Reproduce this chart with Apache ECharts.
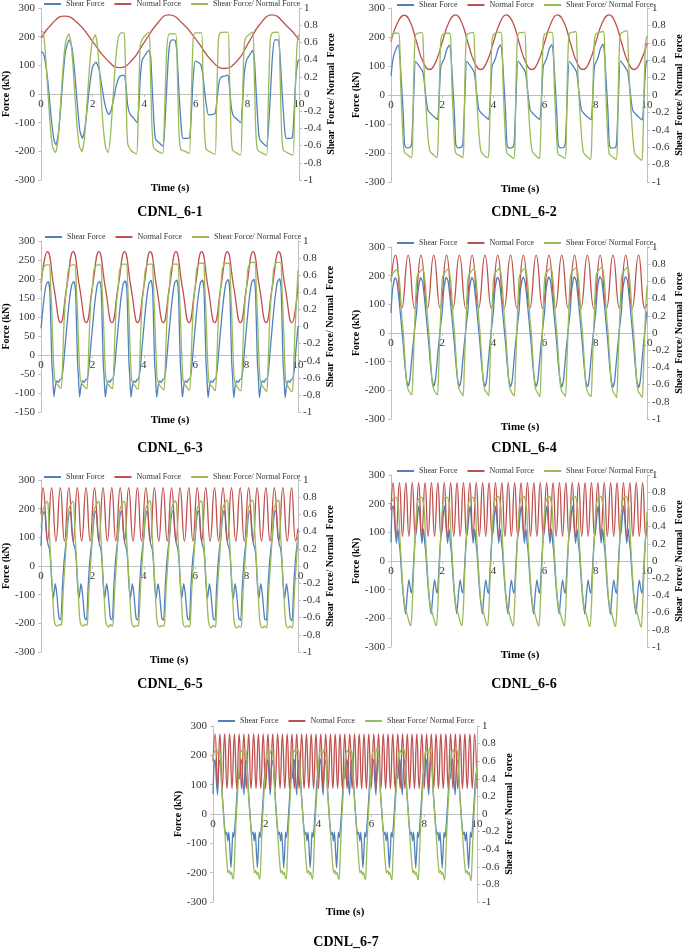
<!DOCTYPE html>
<html><head><meta charset="utf-8">
<script src="https://cdn.jsdelivr.net/npm/echarts@6/dist/echarts.min.js"></script>
<style>html,body{margin:0;padding:0;background:#fff}#c{width:685px;height:950px}</style>
</head><body><div id="c"></div>
<script>
// ---------------- DATA (time s, value) ----------------
const seriesNames = ['Shear Force', 'Normal Force', 'Shear Force/ Normal Force'];
const panelTitles = ['CDNL_6-1','CDNL_6-2','CDNL_6-3','CDNL_6-4','CDNL_6-5','CDNL_6-6','CDNL_6-7'];
const xRange = [0, 10, 2];
const forceRanges = [[-300,300,100],[-300,300,100],[-150,300,50],[-300,300,100],[-300,300,100],[-300,300,100],[-300,300,100]];
const ratioRange = [-1, 1, 0.2];

// ---- CDNL_6-1
const c1Shear = [[0,148],[0.1,140],[0.2,90],[0.3,10],[0.4,-90],[0.5,-160],[0.58,-177],[0.67,-140],[0.76,-50],[0.85,60],[0.95,150],[1.09,189],[1.2,160],[1.3,80],[1.4,-30],[1.5,-125],[1.6,-155],[1.7,-120],[1.8,-40],[1.9,40],[2.0,95],[2.13,111],[2.25,85],[2.35,30],[2.45,-25],[2.55,-60],[2.63,-71],[2.72,-55],[2.82,-15],[2.92,30],[3.02,58],[3.1,64],[3.21,66],[3.28,40],[3.36,-40],[3.45,-70],[3.6,-85],[3.72,-100],[3.78,-60],[3.85,60],[3.92,119],[4.05,138],[4.18,152],[4.25,130],[4.32,0],[4.4,-130],[4.45,-159],[4.6,-172],[4.72,-182],[4.78,-140],[4.85,-20],[4.93,120],[5.0,180],[5.08,189],[5.2,187],[5.27,140],[5.35,0],[5.45,-130],[5.5,-155],[5.65,-155],[5.76,-152],[5.82,-80],[5.9,60],[5.98,115],[6.1,110],[6.2,101],[6.28,60],[6.38,-20],[6.49,-73],[6.6,-72],[6.75,-68],[6.82,-20],[6.9,40],[6.97,58],[7.1,62],[7.24,66],[7.3,30],[7.38,-50],[7.46,-77],[7.6,-88],[7.74,-100],[7.8,-50],[7.88,70],[7.97,119],[8.1,138],[8.2,152],[8.27,120],[8.35,-10],[8.43,-130],[8.48,-159],[8.6,-172],[8.74,-182],[8.8,-140],[8.88,-20],[8.97,130],[9.06,189],[9.19,189],[9.26,140],[9.35,0],[9.45,-130],[9.51,-155],[9.62,-155],[9.74,-152],[9.8,-80],[9.88,60],[9.96,115],[10,120]];
const c1Normal = [[0,195],[0.45,248],[0.9,272],[1.45,245],[2.0,183],[2.55,120],[3.05,92],[3.5,115],[4.0,180],[4.5,245],[4.95,276],[5.5,245],[6.05,185],[6.6,118],[7.1,89],[7.6,115],[8.05,180],[8.5,245],[8.95,276],[9.5,240],[10,190]];
const c1Ratio = [[0,0.73],[0.08,0.72],[0.15,0.55],[0.25,0.1],[0.35,-0.35],[0.45,-0.62],[0.56,-0.68],[0.65,-0.55],[0.75,-0.15],[0.85,0.3],[0.95,0.6],[1.07,0.7],[1.17,0.58],[1.27,0.18],[1.37,-0.28],[1.48,-0.6],[1.58,-0.67],[1.68,-0.52],[1.78,-0.12],[1.88,0.32],[1.98,0.6],[2.1,0.69],[2.2,0.52],[2.3,0.1],[2.4,-0.35],[2.5,-0.62],[2.6,-0.68],[2.7,-0.45],[2.8,0.0],[2.9,0.42],[3.0,0.66],[3.1,0.71],[3.22,0.71],[3.26,0.45],[3.31,-0.2],[3.36,-0.58],[3.5,-0.66],[3.7,-0.7],[3.76,-0.35],[3.84,0.55],[3.95,0.65],[4.18,0.72],[4.23,0.4],[4.29,-0.3],[4.36,-0.62],[4.55,-0.67],[4.72,-0.69],[4.78,-0.3],[4.87,0.5],[4.97,0.7],[5.22,0.7],[5.28,0.3],[5.34,-0.4],[5.41,-0.64],[5.6,-0.67],[5.75,-0.69],[5.81,-0.2],[5.89,0.6],[5.96,0.71],[6.22,0.71],[6.27,0.3],[6.33,-0.4],[6.4,-0.64],[6.6,-0.68],[6.75,-0.7],[6.8,-0.2],[6.87,0.6],[6.94,0.71],[7.24,0.72],[7.3,0.3],[7.36,-0.4],[7.42,-0.65],[7.6,-0.69],[7.74,-0.71],[7.8,-0.2],[7.87,0.55],[7.95,0.66],[8.2,0.72],[8.26,0.3],[8.32,-0.4],[8.39,-0.65],[8.6,-0.69],[8.75,-0.71],[8.8,-0.2],[8.88,0.6],[8.96,0.71],[9.2,0.72],[9.26,0.3],[9.32,-0.4],[9.39,-0.65],[9.6,-0.69],[9.77,-0.71],[9.83,-0.2],[9.91,0.5],[9.97,0.68],[10,0.69]];

// ---- CDNL_6-2
const c2Shear = [[0,66],[0.08,125],[0.18,155],[0.28,172],[0.34,140],[0.41,39],[0.47,-50],[0.53,-170],[0.6,-182],[0.75,-180],[0.81,-165],[0.88,-20],[0.96,115],[1.1,100],[1.25,78],[1.35,5],[1.44,-52],[1.57,-66],[1.75,-80],[1.82,-85],[1.88,-10],[1.95,100],
[2.08,125],[2.18,158],[2.28,172],[2.34,140],[2.41,39],[2.47,-50],[2.53,-170],[2.6,-182],[2.75,-180],[2.81,-165],[2.88,-20],[2.96,116],[3.1,100],[3.25,78],[3.35,5],[3.44,-52],[3.57,-66],[3.75,-80],[3.82,-84],[3.88,-10],[3.95,100],
[4.08,126],[4.18,158],[4.28,173],[4.34,141],[4.41,39],[4.47,-50],[4.53,-171],[4.6,-183],[4.75,-181],[4.81,-166],[4.88,-20],[4.96,117],[5.1,101],[5.25,78],[5.35,5],[5.44,-52],[5.57,-66],[5.75,-81],[5.82,-84],[5.88,-10],[5.95,100],
[6.08,126],[6.18,159],[6.28,174],[6.34,141],[6.41,40],[6.47,-50],[6.53,-171],[6.6,-182],[6.75,-181],[6.81,-166],[6.88,-20],[6.96,116],[7.1,101],[7.25,78],[7.35,5],[7.44,-52],[7.57,-67],[7.75,-81],[7.82,-85],[7.88,-10],[7.95,100],
[8.08,127],[8.18,160],[8.28,175],[8.34,142],[8.41,40],[8.47,-50],[8.53,-172],[8.6,-183],[8.75,-182],[8.81,-166],[8.88,-20],[8.96,118],[9.1,102],[9.25,79],[9.35,5],[9.44,-53],[9.57,-67],[9.75,-82],[9.82,-86],[9.88,-10],[9.95,100],[10,120]];
const c2Normal = [[0,185],[0.26,250],[0.52,275],[0.76,250],[1.0,182],[1.25,115],[1.5,88],[1.75,115],[2.0,182],[2.26,250],[2.52,276],[2.76,250],[3.0,182],[3.25,115],[3.5,88],[3.75,115],[4.0,182],[4.26,250],[4.5,276],[4.76,250],[5.0,182],[5.25,115],[5.5,88],[5.75,115],[6.0,182],[6.26,250],[6.5,276],[6.76,250],[7.0,182],[7.25,115],[7.5,88],[7.75,115],[8.0,182],[8.26,250],[8.52,276],[8.76,250],[9.0,182],[9.25,115],[9.5,88],[9.75,115],[10,180]];
const c2Ratio = [[0,0.62],[0.06,0.7],[0.15,0.71],[0.3,0.71],[0.34,0.6],[0.38,0.1],[0.43,-0.25],[0.48,-0.55],[0.53,-0.66],[0.7,-0.7],[0.8,-0.72],[0.84,-0.6],[0.88,0.1],[0.93,0.6],[0.98,0.7],[1.22,0.72],[1.26,0.55],[1.32,0.1],[1.38,-0.2],[1.45,-0.5],[1.52,-0.64],[1.7,-0.7],[1.8,-0.72],[1.84,-0.55],[1.89,0.1],[1.94,0.6],
[2.0,0.69],[2.15,0.71],[2.3,0.71],[2.34,0.6],[2.38,0.1],[2.43,-0.25],[2.48,-0.55],[2.53,-0.67],[2.7,-0.7],[2.8,-0.72],[2.84,-0.6],[2.88,0.1],[2.93,0.6],[2.98,0.7],[3.22,0.72],[3.26,0.55],[3.32,0.1],[3.38,-0.2],[3.45,-0.5],[3.52,-0.65],[3.7,-0.71],[3.8,-0.72],[3.84,-0.55],[3.89,0.1],[3.94,0.6],
[4.0,0.69],[4.15,0.72],[4.3,0.72],[4.34,0.6],[4.38,0.1],[4.43,-0.25],[4.48,-0.55],[4.53,-0.67],[4.7,-0.71],[4.8,-0.73],[4.84,-0.6],[4.88,0.1],[4.93,0.6],[4.98,0.71],[5.22,0.72],[5.26,0.55],[5.32,0.1],[5.38,-0.2],[5.45,-0.5],[5.52,-0.65],[5.7,-0.71],[5.8,-0.73],[5.84,-0.55],[5.89,0.1],[5.94,0.6],
[6.0,0.7],[6.15,0.72],[6.3,0.72],[6.34,0.6],[6.38,0.1],[6.43,-0.25],[6.48,-0.55],[6.53,-0.68],[6.7,-0.71],[6.8,-0.73],[6.84,-0.6],[6.88,0.1],[6.93,0.6],[6.98,0.71],[7.22,0.73],[7.26,0.55],[7.32,0.1],[7.38,-0.2],[7.45,-0.5],[7.52,-0.66],[7.7,-0.72],[7.8,-0.74],[7.84,-0.55],[7.89,0.1],[7.94,0.6],
[8.0,0.7],[8.15,0.72],[8.3,0.73],[8.34,0.6],[8.38,0.1],[8.43,-0.25],[8.48,-0.55],[8.53,-0.68],[8.7,-0.72],[8.8,-0.74],[8.84,-0.6],[8.88,0.1],[8.93,0.6],[8.98,0.71],[9.22,0.74],[9.26,0.55],[9.32,0.1],[9.38,-0.2],[9.45,-0.5],[9.52,-0.67],[9.7,-0.73],[9.8,-0.75],[9.84,-0.55],[9.89,0.1],[9.94,0.6],[10,0.68]];

// ---- CDNL_6-3
const c3Shear = [[0,70],[0.1,140],[0.2,185],[0.28,193],[0.34,170],[0.38,80],[0.42,-20],[0.45,-52],[0.5,-110],[0.56,-80],[0.62,-68],[0.68,-72],[0.74,-64],[0.8,-62],[0.86,-35],[0.93,20],
[1,72],[1.1,142],[1.2,186],[1.28,193],[1.34,170],[1.38,80],[1.42,-20],[1.45,-52],[1.5,-110],[1.56,-80],[1.62,-68],[1.68,-72],[1.74,-64],[1.8,-62],[1.86,-35],[1.93,20],
[2,72],[2.1,142],[2.2,187],[2.28,194],[2.34,171],[2.38,80],[2.42,-20],[2.45,-52],[2.5,-111],[2.56,-80],[2.62,-68],[2.68,-72],[2.74,-64],[2.8,-62],[2.86,-35],[2.93,20],
[3,73],[3.1,143],[3.2,188],[3.28,195],[3.34,172],[3.38,80],[3.42,-20],[3.45,-52],[3.5,-111],[3.56,-80],[3.62,-68],[3.68,-72],[3.74,-64],[3.8,-62],[3.86,-35],[3.93,20],
[4,73],[4.1,143],[4.2,189],[4.28,196],[4.34,173],[4.38,81],[4.42,-20],[4.45,-52],[4.5,-111],[4.56,-80],[4.62,-68],[4.68,-72],[4.74,-64],[4.8,-62],[4.86,-35],[4.93,21],
[5,74],[5.1,144],[5.2,190],[5.28,197],[5.34,174],[5.38,81],[5.42,-20],[5.45,-52],[5.5,-111],[5.56,-80],[5.62,-68],[5.68,-72],[5.74,-64],[5.8,-62],[5.86,-35],[5.93,21],
[6,74],[6.1,144],[6.2,190],[6.28,197],[6.34,174],[6.38,82],[6.42,-20],[6.45,-52],[6.5,-112],[6.56,-80],[6.62,-68],[6.68,-72],[6.74,-64],[6.8,-62],[6.86,-35],[6.93,21],
[7,75],[7.1,145],[7.2,191],[7.28,198],[7.34,175],[7.38,82],[7.42,-20],[7.45,-52],[7.5,-112],[7.56,-80],[7.62,-68],[7.68,-72],[7.74,-64],[7.8,-62],[7.86,-35],[7.93,22],
[8,75],[8.1,146],[8.2,192],[8.28,199],[8.34,176],[8.38,82],[8.42,-20],[8.45,-52],[8.5,-112],[8.56,-80],[8.62,-68],[8.68,-72],[8.74,-64],[8.8,-62],[8.86,-35],[8.93,22],
[9,76],[9.1,146],[9.2,193],[9.28,200],[9.34,177],[9.38,83],[9.42,-20],[9.45,-52],[9.5,-112],[9.56,-80],[9.62,-68],[9.68,-72],[9.74,-64],[9.8,-62],[9.86,-35],[9.93,22],[10,76]];
const c3Normal = [[0,190],[0.25,272],[0.5,178],[0.76,85],[1,180],[1.25,272],[1.5,178],[1.76,85],[2,180],[2.25,272],[2.5,178],[2.76,85],[3,180],[3.25,272],[3.5,178],[3.76,85],[4,180],[4.25,272],[4.5,178],[4.76,85],[5,180],[5.25,272],[5.5,178],[5.76,85],[6,180],[6.25,272],[6.5,178],[6.76,85],[7,180],[7.25,272],[7.5,178],[7.76,85],[8,180],[8.25,272],[8.5,178],[8.76,85],[9,180],[9.25,272],[9.5,178],[9.76,85],[10,185]];
const c3Ratio = [[0,0.42],[0.05,0.64],[0.12,0.7],[0.2,0.72],[0.33,0.72],[0.37,0.5],[0.42,0.15],[0.47,-0.3],[0.52,-0.6],[0.58,-0.66],[0.65,-0.68],[0.74,-0.72],[0.79,-0.72],[0.83,-0.5],[0.88,-0.05],[0.94,0.3],
[1,0.45],[1.05,0.64],[1.12,0.7],[1.2,0.72],[1.33,0.72],[1.37,0.5],[1.42,0.15],[1.47,-0.3],[1.52,-0.6],[1.58,-0.66],[1.65,-0.69],[1.74,-0.72],[1.79,-0.73],[1.83,-0.5],[1.88,-0.05],[1.94,0.3],
[2,0.45],[2.05,0.65],[2.12,0.7],[2.2,0.72],[2.33,0.72],[2.37,0.5],[2.42,0.15],[2.47,-0.3],[2.52,-0.6],[2.58,-0.66],[2.65,-0.69],[2.74,-0.72],[2.79,-0.73],[2.83,-0.5],[2.88,-0.05],[2.94,0.3],
[3,0.45],[3.05,0.65],[3.12,0.71],[3.2,0.73],[3.33,0.73],[3.37,0.5],[3.42,0.15],[3.47,-0.3],[3.52,-0.61],[3.58,-0.67],[3.65,-0.69],[3.74,-0.73],[3.79,-0.73],[3.83,-0.5],[3.88,-0.05],[3.94,0.3],
[4,0.46],[4.05,0.65],[4.12,0.71],[4.2,0.73],[4.33,0.73],[4.37,0.5],[4.42,0.15],[4.47,-0.3],[4.52,-0.61],[4.58,-0.67],[4.65,-0.7],[4.74,-0.73],[4.79,-0.74],[4.83,-0.5],[4.88,-0.05],[4.94,0.3],
[5,0.46],[5.05,0.66],[5.12,0.72],[5.2,0.73],[5.33,0.73],[5.37,0.5],[5.42,0.15],[5.47,-0.3],[5.52,-0.61],[5.58,-0.67],[5.65,-0.7],[5.74,-0.74],[5.79,-0.74],[5.83,-0.5],[5.88,-0.05],[5.94,0.3],
[6,0.46],[6.05,0.66],[6.12,0.72],[6.2,0.74],[6.33,0.74],[6.37,0.5],[6.42,0.15],[6.47,-0.3],[6.52,-0.62],[6.58,-0.68],[6.65,-0.7],[6.74,-0.74],[6.79,-0.75],[6.83,-0.5],[6.88,-0.05],[6.94,0.3],
[7,0.47],[7.05,0.66],[7.12,0.72],[7.2,0.74],[7.33,0.74],[7.37,0.5],[7.42,0.15],[7.47,-0.3],[7.52,-0.62],[7.58,-0.68],[7.65,-0.71],[7.74,-0.75],[7.79,-0.75],[7.83,-0.5],[7.88,-0.05],[7.94,0.3],
[8,0.47],[8.05,0.67],[8.12,0.73],[8.2,0.75],[8.33,0.75],[8.37,0.5],[8.42,0.15],[8.47,-0.3],[8.52,-0.62],[8.58,-0.68],[8.65,-0.71],[8.74,-0.75],[8.79,-0.76],[8.83,-0.5],[8.88,-0.05],[8.94,0.3],
[9,0.47],[9.05,0.67],[9.12,0.73],[9.2,0.75],[9.33,0.75],[9.37,0.5],[9.42,0.15],[9.47,-0.3],[9.52,-0.63],[9.58,-0.69],[9.65,-0.72],[9.74,-0.76],[9.79,-0.76],[9.83,-0.5],[9.88,-0.05],[9.94,0.3],[10,0.66]];

// ---- CDNL_6-4
const c4Shear = [[0,70],[0.06,150],[0.16,193],[0.23,180],[0.32,110],[0.4,35],[0.48,-42],[0.52,-90],[0.6,-160],[0.67,-185],[0.74,-160],[0.8,-100],[0.86,-42],[0.92,10],[0.97,50],
[1,72],[1.06,150],[1.16,193],[1.23,180],[1.32,110],[1.4,35],[1.48,-42],[1.52,-90],[1.6,-160],[1.67,-185],[1.74,-160],[1.8,-100],[1.86,-42],[1.92,10],[1.97,50],
[2,72],[2.06,151],[2.16,194],[2.23,181],[2.32,110],[2.4,35],[2.48,-42],[2.52,-90],[2.6,-161],[2.67,-186],[2.74,-161],[2.8,-100],[2.86,-42],[2.92,10],[2.97,50],
[3,72],[3.06,151],[3.16,194],[3.23,181],[3.32,110],[3.4,35],[3.48,-42],[3.52,-90],[3.6,-161],[3.67,-186],[3.74,-161],[3.8,-100],[3.86,-42],[3.92,10],[3.97,50],
[4,73],[4.06,152],[4.16,195],[4.23,182],[4.32,111],[4.4,35],[4.48,-42],[4.52,-91],[4.6,-162],[4.67,-187],[4.74,-162],[4.8,-101],[4.86,-42],[4.92,10],[4.97,51],
[5,73],[5.06,152],[5.16,195],[5.23,182],[5.32,111],[5.4,35],[5.48,-42],[5.52,-91],[5.6,-162],[5.67,-187],[5.74,-162],[5.8,-101],[5.86,-42],[5.92,10],[5.97,51],
[6,73],[6.06,153],[6.16,196],[6.23,183],[6.32,111],[6.4,36],[6.48,-43],[6.52,-91],[6.6,-163],[6.67,-188],[6.74,-163],[6.8,-101],[6.86,-43],[6.92,10],[6.97,51],
[7,74],[7.06,153],[7.16,196],[7.23,183],[7.32,112],[7.4,36],[7.48,-43],[7.52,-92],[7.6,-163],[7.67,-188],[7.74,-163],[7.8,-102],[7.86,-43],[7.92,10],[7.97,52],
[8,74],[8.06,154],[8.16,197],[8.23,184],[8.32,112],[8.4,36],[8.48,-43],[8.52,-92],[8.6,-164],[8.67,-189],[8.74,-164],[8.8,-102],[8.86,-43],[8.92,10],[8.97,52],
[9,74],[9.06,154],[9.16,197],[9.23,184],[9.32,112],[9.4,36],[9.48,-43],[9.52,-92],[9.6,-165],[9.67,-190],[9.74,-165],[9.8,-102],[9.86,-43],[9.92,10],[9.97,52],[10,75]];
const c4Normal = [[0,180],[0.17,272],[0.42,86],[0.67,272],[0.92,86],[1.17,272],[1.42,86],[1.67,272],[1.92,86],[2.17,272],[2.42,86],[2.67,272],[2.92,86],[3.17,272],[3.42,86],[3.67,272],[3.92,86],[4.17,272],[4.42,86],[4.67,272],[4.92,86],[5.17,272],[5.42,86],[5.67,272],[5.92,86],[6.17,272],[6.42,86],[6.67,272],[6.92,86],[7.17,272],[7.42,86],[7.67,272],[7.92,86],[8.17,272],[8.42,86],[8.67,272],[8.92,86],[9.17,272],[9.42,86],[9.67,272],[9.92,86],[10,100]];
const c4Ratio = [[0,0.6],[0.05,0.68],[0.15,0.72],[0.25,0.74],[0.3,0.68],[0.36,0.5],[0.42,0.2],[0.48,0.0],[0.54,-0.28],[0.6,-0.55],[0.66,-0.65],[0.75,-0.7],[0.82,-0.72],[0.86,-0.45],[0.9,-0.1],[0.95,0.3],
[1,0.62],[1.05,0.68],[1.15,0.72],[1.25,0.74],[1.3,0.68],[1.36,0.5],[1.42,0.2],[1.48,0.0],[1.54,-0.28],[1.6,-0.55],[1.66,-0.65],[1.75,-0.7],[1.82,-0.72],[1.86,-0.45],[1.9,-0.1],[1.95,0.3],
[2,0.62],[2.05,0.68],[2.15,0.72],[2.25,0.75],[2.3,0.68],[2.36,0.5],[2.42,0.2],[2.48,0.0],[2.54,-0.28],[2.6,-0.55],[2.66,-0.65],[2.75,-0.7],[2.82,-0.73],[2.86,-0.45],[2.9,-0.1],[2.95,0.3],
[3,0.62],[3.05,0.68],[3.15,0.72],[3.25,0.75],[3.3,0.68],[3.36,0.5],[3.42,0.2],[3.48,0.0],[3.54,-0.28],[3.6,-0.55],[3.66,-0.66],[3.75,-0.7],[3.82,-0.73],[3.86,-0.45],[3.9,-0.1],[3.95,0.3],
[4,0.62],[4.05,0.69],[4.15,0.73],[4.25,0.75],[4.3,0.68],[4.36,0.5],[4.42,0.2],[4.48,0.0],[4.54,-0.28],[4.6,-0.56],[4.66,-0.66],[4.75,-0.71],[4.82,-0.73],[4.86,-0.45],[4.9,-0.1],[4.95,0.3],
[5,0.63],[5.05,0.69],[5.15,0.73],[5.25,0.76],[5.3,0.69],[5.36,0.5],[5.42,0.2],[5.48,0.0],[5.54,-0.28],[5.6,-0.56],[5.66,-0.66],[5.75,-0.71],[5.82,-0.74],[5.86,-0.45],[5.9,-0.1],[5.95,0.3],
[6,0.63],[6.05,0.69],[6.15,0.73],[6.25,0.76],[6.3,0.69],[6.36,0.5],[6.42,0.2],[6.48,0.0],[6.54,-0.28],[6.6,-0.56],[6.66,-0.67],[6.75,-0.71],[6.82,-0.74],[6.86,-0.45],[6.9,-0.1],[6.95,0.3],
[7,0.63],[7.05,0.7],[7.15,0.74],[7.25,0.76],[7.3,0.69],[7.36,0.5],[7.42,0.2],[7.48,0.0],[7.54,-0.28],[7.6,-0.57],[7.66,-0.67],[7.75,-0.72],[7.82,-0.74],[7.86,-0.45],[7.9,-0.1],[7.95,0.3],
[8,0.64],[8.05,0.7],[8.15,0.74],[8.25,0.77],[8.3,0.7],[8.36,0.5],[8.42,0.2],[8.48,0.0],[8.54,-0.28],[8.6,-0.57],[8.66,-0.67],[8.75,-0.72],[8.82,-0.75],[8.86,-0.45],[8.9,-0.1],[8.95,0.3],
[9,0.64],[9.05,0.7],[9.15,0.74],[9.25,0.77],[9.3,0.7],[9.36,0.5],[9.42,0.2],[9.48,0.0],[9.54,-0.28],[9.6,-0.57],[9.66,-0.68],[9.75,-0.72],[9.82,-0.75],[9.86,-0.45],[9.9,-0.1],[9.95,0.3],[10,0.55]];

// ---- CDNL_6-5
const c5Shear = [[0,70],[0.05,170],[0.11,190],[0.16,185],[0.22,110],[0.27,75],[0.32,62],[0.37,20],[0.42,-64],[0.48,-112],[0.55,-62],[0.61,-95],[0.7,-182],[0.77,-188],[0.83,-76],[0.89,10],[0.95,64],
[1,100],[1.05,157],[1.11,190],[1.16,185],[1.22,110],[1.27,75],[1.32,62],[1.37,20],[1.42,-64],[1.48,-112],[1.55,-62],[1.61,-95],[1.7,-182],[1.77,-188],[1.83,-76],[1.89,10],[1.95,64],
[2,100],[2.05,157],[2.11,191],[2.16,185],[2.22,110],[2.27,75],[2.32,62],[2.37,20],[2.42,-64],[2.48,-113],[2.55,-62],[2.61,-95],[2.7,-182],[2.77,-188],[2.83,-76],[2.89,10],[2.95,64],
[3,100],[3.05,158],[3.11,191],[3.16,186],[3.22,110],[3.27,75],[3.32,62],[3.37,20],[3.42,-64],[3.48,-113],[3.55,-62],[3.61,-95],[3.7,-183],[3.77,-189],[3.83,-76],[3.89,10],[3.95,64],
[4,100],[4.05,158],[4.11,191],[4.16,186],[4.22,110],[4.27,75],[4.32,62],[4.37,20],[4.42,-64],[4.48,-113],[4.55,-62],[4.61,-95],[4.7,-183],[4.77,-189],[4.83,-76],[4.89,10],[4.95,64],
[5,100],[5.05,158],[5.11,192],[5.16,186],[5.22,110],[5.27,75],[5.32,62],[5.37,20],[5.42,-64],[5.48,-113],[5.55,-62],[5.61,-95],[5.7,-183],[5.77,-189],[5.83,-76],[5.89,10],[5.95,64],
[6,100],[6.05,158],[6.11,192],[6.16,186],[6.22,110],[6.27,75],[6.32,62],[6.37,20],[6.42,-64],[6.48,-114],[6.55,-62],[6.61,-96],[6.7,-183],[6.77,-189],[6.83,-76],[6.89,10],[6.95,64],
[7,100],[7.05,159],[7.11,192],[7.16,187],[7.22,110],[7.27,75],[7.32,62],[7.37,20],[7.42,-64],[7.48,-114],[7.55,-62],[7.61,-96],[7.7,-184],[7.77,-190],[7.83,-76],[7.89,10],[7.95,64],
[8,100],[8.05,159],[8.11,192],[8.16,187],[8.22,110],[8.27,75],[8.32,62],[8.37,20],[8.42,-64],[8.48,-114],[8.55,-62],[8.61,-96],[8.7,-184],[8.77,-190],[8.83,-76],[8.89,10],[8.95,64],
[9,100],[9.05,159],[9.11,193],[9.16,187],[9.22,110],[9.27,75],[9.32,62],[9.37,20],[9.42,-64],[9.48,-114],[9.55,-62],[9.61,-96],[9.7,-184],[9.77,-191],[9.83,-76],[9.89,10],[9.95,64],[10,100]];
const c5Normal = [[0,180],[0.08,273],[0.25,87],[0.41,273],[0.58,87],[0.75,273],[0.91,87],[1.08,273],[1.25,87],[1.41,273],[1.58,87],[1.75,273],[1.91,87],[2.08,273],[2.25,87],[2.41,273],[2.58,87],[2.75,273],[2.91,87],[3.08,273],[3.25,87],[3.41,273],[3.58,87],[3.75,273],[3.91,87],[4.08,273],[4.25,87],[4.41,273],[4.58,87],[4.75,273],[4.91,87],[5.08,273],[5.25,87],[5.41,273],[5.58,87],[5.75,273],[5.91,87],[6.08,273],[6.25,87],[6.41,273],[6.58,87],[6.75,273],[6.91,87],[7.08,273],[7.25,87],[7.41,273],[7.58,87],[7.75,273],[7.91,87],[8.08,273],[8.25,87],[8.41,273],[8.58,87],[8.75,273],[8.91,87],[9.08,273],[9.25,87],[9.41,273],[9.58,87],[9.75,273],[9.91,87],[10,130]];
const c5Ratio = [[0,0.45],[0.06,0.64],[0.13,0.7],[0.23,0.75],[0.27,0.73],[0.32,0.39],[0.39,0.0],[0.45,-0.33],[0.5,-0.6],[0.55,-0.68],[0.62,-0.7],[0.7,-0.68],[0.77,-0.69],[0.81,-0.65],[0.87,-0.25],[0.94,0.06],
[1,0.37],[1.06,0.64],[1.13,0.7],[1.23,0.75],[1.27,0.73],[1.32,0.39],[1.39,0.0],[1.45,-0.33],[1.5,-0.6],[1.55,-0.68],[1.62,-0.7],[1.7,-0.68],[1.77,-0.69],[1.81,-0.65],[1.87,-0.25],[1.94,0.06],
[2,0.37],[2.06,0.64],[2.13,0.7],[2.23,0.75],[2.27,0.73],[2.32,0.39],[2.39,0.0],[2.45,-0.33],[2.5,-0.6],[2.55,-0.68],[2.62,-0.71],[2.7,-0.68],[2.77,-0.7],[2.81,-0.65],[2.87,-0.25],[2.94,0.06],
[3,0.37],[3.06,0.64],[3.13,0.71],[3.23,0.75],[3.27,0.73],[3.32,0.39],[3.39,0.0],[3.45,-0.33],[3.5,-0.6],[3.55,-0.68],[3.62,-0.71],[3.7,-0.69],[3.77,-0.7],[3.81,-0.65],[3.87,-0.25],[3.94,0.06],
[4,0.37],[4.06,0.65],[4.13,0.71],[4.23,0.76],[4.27,0.73],[4.32,0.39],[4.39,0.0],[4.45,-0.33],[4.5,-0.6],[4.55,-0.69],[4.62,-0.71],[4.7,-0.69],[4.77,-0.7],[4.81,-0.65],[4.87,-0.25],[4.94,0.06],
[5,0.37],[5.06,0.65],[5.13,0.71],[5.23,0.76],[5.27,0.73],[5.32,0.39],[5.39,0.0],[5.45,-0.33],[5.5,-0.6],[5.55,-0.69],[5.62,-0.71],[5.7,-0.69],[5.77,-0.71],[5.81,-0.65],[5.87,-0.25],[5.94,0.06],
[6,0.37],[6.06,0.65],[6.13,0.71],[6.23,0.76],[6.27,0.74],[6.32,0.39],[6.39,0.0],[6.45,-0.33],[6.5,-0.6],[6.55,-0.69],[6.62,-0.72],[6.7,-0.69],[6.77,-0.71],[6.81,-0.65],[6.87,-0.25],[6.94,0.06],
[7,0.37],[7.06,0.65],[7.13,0.72],[7.23,0.77],[7.27,0.74],[7.32,0.39],[7.39,0.0],[7.45,-0.33],[7.5,-0.6],[7.55,-0.7],[7.62,-0.72],[7.7,-0.7],[7.77,-0.71],[7.81,-0.65],[7.87,-0.25],[7.94,0.06],
[8,0.37],[8.06,0.65],[8.13,0.72],[8.23,0.77],[8.27,0.74],[8.32,0.39],[8.39,0.0],[8.45,-0.33],[8.5,-0.6],[8.55,-0.7],[8.62,-0.72],[8.7,-0.7],[8.77,-0.72],[8.81,-0.65],[8.87,-0.25],[8.94,0.06],
[9,0.37],[9.06,0.66],[9.13,0.72],[9.23,0.77],[9.27,0.74],[9.32,0.39],[9.39,0.0],[9.45,-0.33],[9.5,-0.6],[9.55,-0.7],[9.62,-0.72],[9.7,-0.7],[9.77,-0.72],[9.81,-0.65],[9.87,-0.25],[9.94,0.06],[10,0.37]];

// ---- CDNL_6-6
const c6Shear = [[0,65],[0.04,182],[0.09,193],[0.16,112],[0.21,62],[0.27,112],[0.32,62],[0.36,30],[0.41,-40],[0.48,-121],[0.57,-185],[0.64,-110],[0.7,-65],[0.77,-104],[0.81,-112],[0.87,-28],[0.94,77],
[1,110],[1.04,158],[1.09,193],[1.16,112],[1.21,62],[1.27,112],[1.32,62],[1.36,30],[1.41,-40],[1.48,-121],[1.57,-185],[1.64,-110],[1.7,-65],[1.77,-104],[1.81,-112],[1.87,-28],[1.94,77],
[2,110],[2.04,158],[2.09,192],[2.16,112],[2.21,62],[2.27,112],[2.32,62],[2.36,30],[2.41,-40],[2.48,-121],[2.57,-184],[2.64,-110],[2.7,-65],[2.77,-104],[2.81,-112],[2.87,-28],[2.94,77],
[3,110],[3.04,158],[3.09,192],[3.16,112],[3.21,62],[3.27,112],[3.32,62],[3.36,30],[3.41,-40],[3.48,-121],[3.57,-184],[3.64,-110],[3.7,-66],[3.77,-104],[3.81,-113],[3.87,-28],[3.94,77],
[4,110],[4.04,158],[4.09,192],[4.16,112],[4.21,62],[4.27,112],[4.32,62],[4.36,30],[4.41,-40],[4.48,-121],[4.57,-185],[4.64,-110],[4.7,-66],[4.77,-104],[4.81,-113],[4.87,-28],[4.94,77],
[5,110],[5.04,158],[5.09,192],[5.16,112],[5.21,62],[5.27,112],[5.32,62],[5.36,30],[5.41,-40],[5.48,-121],[5.57,-185],[5.64,-110],[5.7,-66],[5.77,-104],[5.81,-113],[5.87,-28],[5.94,77],
[6,110],[6.04,158],[6.09,192],[6.16,112],[6.21,62],[6.27,112],[6.32,62],[6.36,30],[6.41,-40],[6.48,-121],[6.57,-185],[6.64,-110],[6.7,-66],[6.77,-104],[6.81,-113],[6.87,-28],[6.94,77],
[7,110],[7.04,158],[7.09,193],[7.16,112],[7.21,62],[7.27,112],[7.32,62],[7.36,30],[7.41,-40],[7.48,-121],[7.57,-185],[7.64,-110],[7.7,-66],[7.77,-104],[7.81,-113],[7.87,-28],[7.94,77],
[8,110],[8.04,158],[8.09,193],[8.16,112],[8.21,62],[8.27,112],[8.32,62],[8.36,30],[8.41,-40],[8.48,-121],[8.57,-186],[8.64,-110],[8.7,-66],[8.77,-104],[8.81,-113],[8.87,-28],[8.94,77],
[9,110],[9.04,158],[9.09,193],[9.16,112],[9.21,62],[9.27,112],[9.32,62],[9.36,30],[9.41,-40],[9.48,-121],[9.57,-186],[9.64,-110],[9.7,-66],[9.77,-104],[9.81,-113],[9.87,-28],[9.94,77],[10,112]];
const c6Normal = [[0,178],[0.08,273],[0.2,86],[0.33,273],[0.45,86],[0.58,273],[0.7,86],[0.83,273],[0.95,86],[1.08,273],[1.2,86],[1.33,273],[1.45,86],[1.58,273],[1.7,86],[1.83,273],[1.95,86],[2.08,273],[2.2,86],[2.33,273],[2.45,86],[2.58,273],[2.7,86],[2.83,273],[2.95,86],[3.08,273],[3.2,86],[3.33,273],[3.45,86],[3.58,273],[3.7,86],[3.83,273],[3.95,86],[4.08,273],[4.2,86],[4.33,273],[4.45,86],[4.58,273],[4.7,86],[4.83,273],[4.95,86],[5.08,273],[5.2,86],[5.33,273],[5.45,86],[5.58,273],[5.7,86],[5.83,273],[5.95,86],[6.08,273],[6.2,86],[6.33,273],[6.45,86],[6.58,273],[6.7,86],[6.83,273],[6.95,86],[7.08,273],[7.2,86],[7.33,273],[7.45,86],[7.58,273],[7.7,86],[7.83,273],[7.95,86],[8.08,273],[8.2,86],[8.33,273],[8.45,86],[8.58,273],[8.7,86],[8.83,273],[8.95,86],[9.08,273],[9.2,86],[9.33,273],[9.45,86],[9.58,273],[9.7,86],[9.83,273],[9.95,86],[10,140]];
const c6Ratio = [[0,0.68],[0.05,0.7],[0.13,0.74],[0.2,0.74],[0.25,0.7],[0.3,0.6],[0.35,0.26],[0.41,-0.05],[0.48,-0.37],[0.55,-0.54],[0.61,-0.6],[0.68,-0.68],[0.74,-0.74],[0.78,-0.75],[0.83,-0.52],[0.88,-0.13],[0.94,0.26],
[1,0.57],[1.05,0.7],[1.13,0.74],[1.2,0.74],[1.25,0.7],[1.3,0.6],[1.35,0.26],[1.41,-0.05],[1.48,-0.37],[1.55,-0.54],[1.61,-0.6],[1.68,-0.68],[1.74,-0.74],[1.78,-0.75],[1.83,-0.52],[1.88,-0.13],[1.94,0.26],
[2,0.57],[2.05,0.7],[2.13,0.74],[2.2,0.74],[2.25,0.7],[2.3,0.6],[2.35,0.26],[2.41,-0.05],[2.48,-0.37],[2.55,-0.54],[2.61,-0.6],[2.68,-0.68],[2.74,-0.74],[2.78,-0.75],[2.83,-0.52],[2.88,-0.13],[2.94,0.26],
[3,0.57],[3.05,0.7],[3.13,0.74],[3.2,0.74],[3.25,0.7],[3.3,0.6],[3.35,0.26],[3.41,-0.05],[3.48,-0.37],[3.55,-0.54],[3.61,-0.6],[3.68,-0.68],[3.74,-0.74],[3.78,-0.75],[3.83,-0.52],[3.88,-0.13],[3.94,0.26],
[4,0.57],[4.05,0.7],[4.13,0.74],[4.2,0.75],[4.25,0.7],[4.3,0.6],[4.35,0.26],[4.41,-0.05],[4.48,-0.37],[4.55,-0.54],[4.61,-0.6],[4.68,-0.68],[4.74,-0.74],[4.78,-0.76],[4.83,-0.52],[4.88,-0.13],[4.94,0.26],
[5,0.57],[5.05,0.7],[5.13,0.74],[5.2,0.75],[5.25,0.7],[5.3,0.6],[5.35,0.26],[5.41,-0.05],[5.48,-0.37],[5.55,-0.54],[5.61,-0.6],[5.68,-0.68],[5.74,-0.74],[5.78,-0.76],[5.83,-0.52],[5.88,-0.13],[5.94,0.26],
[6,0.57],[6.05,0.7],[6.13,0.74],[6.2,0.75],[6.25,0.7],[6.3,0.6],[6.35,0.26],[6.41,-0.05],[6.48,-0.37],[6.55,-0.54],[6.61,-0.6],[6.68,-0.68],[6.74,-0.74],[6.78,-0.76],[6.83,-0.52],[6.88,-0.13],[6.94,0.26],
[7,0.57],[7.05,0.7],[7.13,0.75],[7.2,0.75],[7.25,0.7],[7.3,0.6],[7.35,0.26],[7.41,-0.05],[7.48,-0.37],[7.55,-0.54],[7.61,-0.6],[7.68,-0.68],[7.74,-0.75],[7.78,-0.76],[7.83,-0.52],[7.88,-0.13],[7.94,0.26],
[8,0.57],[8.05,0.7],[8.13,0.75],[8.2,0.75],[8.25,0.7],[8.3,0.6],[8.35,0.26],[8.41,-0.05],[8.48,-0.37],[8.55,-0.54],[8.61,-0.6],[8.68,-0.68],[8.74,-0.75],[8.78,-0.76],[8.83,-0.52],[8.88,-0.13],[8.94,0.26],
[9,0.57],[9.05,0.7],[9.13,0.75],[9.2,0.75],[9.25,0.7],[9.3,0.6],[9.35,0.26],[9.41,-0.05],[9.48,-0.37],[9.55,-0.54],[9.61,-0.6],[9.68,-0.68],[9.74,-0.75],[9.78,-0.77],[9.83,-0.52],[9.88,-0.13],[9.94,0.26],[10,0.57]];

// ---- CDNL_6-7
const c7Shear = [[0,68],[0.04,175],[0.08,185],[0.13,110],[0.17,65],[0.21,150],[0.25,183],[0.29,170],[0.34,80],[0.39,15],[0.44,-45],[0.48,-70],[0.52,-62],[0.56,-92],[0.6,-62],[0.64,-120],[0.68,-183],[0.72,-120],[0.75,-62],[0.79,-80],[0.85,-17],[0.91,70],[0.96,140],
[1,120],[1.04,175],[1.08,185],[1.13,110],[1.17,65],[1.21,150],[1.25,183],[1.29,170],[1.34,80],[1.39,15],[1.44,-45],[1.48,-70],[1.52,-62],[1.56,-92],[1.6,-62],[1.64,-120],[1.68,-183],[1.72,-120],[1.75,-62],[1.79,-80],[1.85,-17],[1.91,70],[1.96,140],
[2,120],[2.04,176],[2.08,185],[2.13,110],[2.17,65],[2.21,150],[2.25,183],[2.29,170],[2.34,80],[2.39,15],[2.44,-45],[2.48,-70],[2.52,-62],[2.56,-92],[2.6,-62],[2.64,-120],[2.68,-184],[2.72,-120],[2.75,-62],[2.79,-80],[2.85,-17],[2.91,70],[2.96,140],
[3,120],[3.04,176],[3.08,185],[3.13,110],[3.17,65],[3.21,150],[3.25,183],[3.29,170],[3.34,80],[3.39,15],[3.44,-45],[3.48,-70],[3.52,-62],[3.56,-92],[3.6,-62],[3.64,-120],[3.68,-184],[3.72,-120],[3.75,-62],[3.79,-80],[3.85,-17],[3.91,70],[3.96,140],
[4,120],[4.04,176],[4.08,186],[4.13,110],[4.17,65],[4.21,150],[4.25,184],[4.29,170],[4.34,80],[4.39,15],[4.44,-45],[4.48,-70],[4.52,-62],[4.56,-92],[4.6,-62],[4.64,-120],[4.68,-184],[4.72,-120],[4.75,-62],[4.79,-80],[4.85,-17],[4.91,70],[4.96,140],
[5,120],[5.04,176],[5.08,186],[5.13,110],[5.17,65],[5.21,150],[5.25,184],[5.29,170],[5.34,80],[5.39,15],[5.44,-45],[5.48,-70],[5.52,-62],[5.56,-92],[5.6,-62],[5.64,-120],[5.68,-184],[5.72,-120],[5.75,-62],[5.79,-80],[5.85,-17],[5.91,70],[5.96,140],
[6,120],[6.04,176],[6.08,186],[6.13,110],[6.17,65],[6.21,150],[6.25,184],[6.29,170],[6.34,80],[6.39,15],[6.44,-45],[6.48,-70],[6.52,-62],[6.56,-92],[6.6,-62],[6.64,-120],[6.68,-185],[6.72,-120],[6.75,-62],[6.79,-80],[6.85,-17],[6.91,70],[6.96,140],
[7,120],[7.04,177],[7.08,186],[7.13,110],[7.17,65],[7.21,150],[7.25,185],[7.29,170],[7.34,80],[7.39,15],[7.44,-45],[7.48,-70],[7.52,-62],[7.56,-92],[7.6,-62],[7.64,-120],[7.68,-185],[7.72,-120],[7.75,-62],[7.79,-80],[7.85,-17],[7.91,70],[7.96,140],
[8,120],[8.04,177],[8.08,187],[8.13,110],[8.17,65],[8.21,150],[8.25,185],[8.29,170],[8.34,80],[8.39,15],[8.44,-45],[8.48,-70],[8.52,-62],[8.56,-92],[8.6,-62],[8.64,-120],[8.68,-185],[8.72,-120],[8.75,-62],[8.79,-80],[8.85,-17],[8.91,70],[8.96,140],
[9,120],[9.04,177],[9.08,187],[9.13,110],[9.17,65],[9.21,150],[9.25,185],[9.29,170],[9.34,80],[9.39,15],[9.44,-45],[9.48,-70],[9.52,-62],[9.56,-92],[9.6,-62],[9.64,-120],[9.68,-186],[9.72,-120],[9.75,-62],[9.79,-80],[9.85,-17],[9.91,70],[9.96,140],[10,120]];
const c7Normal = [[0,180],[0.08,273],[0.17,87],[0.26,273],[0.35,87],[0.44,273],[0.53,87],[0.63,273],[0.72,87],[0.81,273],[0.9,87],[0.99,273],[1.08,87],[1.17,273],[1.26,87],[1.35,273],[1.44,87],[1.54,273],[1.63,87],[1.72,273],[1.81,87],[1.9,273],[1.99,87],[2.08,273],[2.17,87],[2.26,273],[2.35,87],[2.45,273],[2.54,87],[2.63,273],[2.72,87],[2.81,273],[2.9,87],[2.99,273],[3.08,87],[3.17,273],[3.26,87],[3.36,273],[3.45,87],[3.54,273],[3.63,87],[3.72,273],[3.81,87],[3.9,273],[3.99,87],[4.08,273],[4.17,87],[4.27,273],[4.36,87],[4.45,273],[4.54,87],[4.63,273],[4.72,87],[4.81,273],[4.9,87],[4.99,273],[5.08,87],[5.18,273],[5.27,87],[5.36,273],[5.45,87],[5.54,273],[5.63,87],[5.72,273],[5.81,87],[5.9,273],[5.99,87],[6.09,273],[6.18,87],[6.27,273],[6.36,87],[6.45,273],[6.54,87],[6.63,273],[6.72,87],[6.81,273],[6.9,87],[7.0,273],[7.09,87],[7.18,273],[7.27,87],[7.36,273],[7.45,87],[7.54,273],[7.63,87],[7.72,273],[7.81,87],[7.91,273],[8.0,87],[8.09,273],[8.18,87],[8.27,273],[8.36,87],[8.45,273],[8.54,87],[8.63,273],[8.72,87],[8.82,273],[8.91,87],[9.0,273],[9.09,87],[9.18,273],[9.27,87],[9.36,273],[9.45,87],[9.54,273],[9.63,87],[9.73,273],[9.82,87],[9.91,273],[10,87]];
const c7Ratio = [[0,0.62],[0.04,0.7],[0.09,0.72],[0.15,0.68],[0.21,0.74],[0.27,0.68],[0.34,0.25],[0.41,-0.06],[0.46,-0.26],[0.5,-0.45],[0.54,-0.6],[0.57,-0.67],[0.62,-0.64],[0.66,-0.69],[0.7,-0.66],[0.74,-0.72],[0.78,-0.74],[0.82,-0.47],[0.87,-0.09],[0.94,0.28],
[1,0.58],[1.04,0.7],[1.09,0.72],[1.15,0.68],[1.21,0.74],[1.27,0.68],[1.34,0.25],[1.41,-0.06],[1.46,-0.26],[1.5,-0.45],[1.54,-0.6],[1.57,-0.67],[1.62,-0.64],[1.66,-0.69],[1.7,-0.66],[1.74,-0.72],[1.78,-0.74],[1.82,-0.47],[1.87,-0.09],[1.94,0.28],
[2,0.58],[2.04,0.7],[2.09,0.72],[2.15,0.68],[2.21,0.74],[2.27,0.68],[2.34,0.25],[2.41,-0.06],[2.46,-0.26],[2.5,-0.45],[2.54,-0.6],[2.57,-0.67],[2.62,-0.64],[2.66,-0.69],[2.7,-0.66],[2.74,-0.72],[2.78,-0.74],[2.82,-0.47],[2.87,-0.09],[2.94,0.28],
[3,0.58],[3.04,0.7],[3.09,0.72],[3.15,0.68],[3.21,0.74],[3.27,0.68],[3.34,0.25],[3.41,-0.06],[3.46,-0.26],[3.5,-0.45],[3.54,-0.6],[3.57,-0.67],[3.62,-0.64],[3.66,-0.69],[3.7,-0.66],[3.74,-0.72],[3.78,-0.74],[3.82,-0.47],[3.87,-0.09],[3.94,0.28],
[4,0.58],[4.04,0.7],[4.09,0.72],[4.15,0.68],[4.21,0.74],[4.27,0.68],[4.34,0.25],[4.41,-0.06],[4.46,-0.26],[4.5,-0.45],[4.54,-0.6],[4.57,-0.67],[4.62,-0.64],[4.66,-0.69],[4.7,-0.66],[4.74,-0.72],[4.78,-0.75],[4.82,-0.47],[4.87,-0.09],[4.94,0.28],
[5,0.58],[5.04,0.7],[5.09,0.72],[5.15,0.68],[5.21,0.74],[5.27,0.68],[5.34,0.25],[5.41,-0.06],[5.46,-0.26],[5.5,-0.45],[5.54,-0.6],[5.57,-0.67],[5.62,-0.64],[5.66,-0.69],[5.7,-0.66],[5.74,-0.72],[5.78,-0.75],[5.82,-0.47],[5.87,-0.09],[5.94,0.28],
[6,0.58],[6.04,0.7],[6.09,0.72],[6.15,0.68],[6.21,0.75],[6.27,0.68],[6.34,0.25],[6.41,-0.06],[6.46,-0.26],[6.5,-0.45],[6.54,-0.6],[6.57,-0.67],[6.62,-0.64],[6.66,-0.69],[6.7,-0.66],[6.74,-0.72],[6.78,-0.75],[6.82,-0.47],[6.87,-0.09],[6.94,0.28],
[7,0.58],[7.04,0.7],[7.09,0.72],[7.15,0.68],[7.21,0.75],[7.27,0.68],[7.34,0.25],[7.41,-0.06],[7.46,-0.26],[7.5,-0.45],[7.54,-0.6],[7.57,-0.67],[7.62,-0.64],[7.66,-0.69],[7.7,-0.66],[7.74,-0.72],[7.78,-0.75],[7.82,-0.47],[7.87,-0.09],[7.94,0.28],
[8,0.58],[8.04,0.7],[8.09,0.73],[8.15,0.68],[8.21,0.75],[8.27,0.68],[8.34,0.25],[8.41,-0.06],[8.46,-0.26],[8.5,-0.45],[8.54,-0.6],[8.57,-0.67],[8.62,-0.64],[8.66,-0.69],[8.7,-0.66],[8.74,-0.72],[8.78,-0.75],[8.82,-0.47],[8.87,-0.09],[8.94,0.28],
[9,0.58],[9.04,0.7],[9.09,0.73],[9.15,0.68],[9.21,0.75],[9.27,0.68],[9.34,0.25],[9.41,-0.06],[9.46,-0.26],[9.5,-0.45],[9.54,-0.6],[9.57,-0.67],[9.62,-0.64],[9.66,-0.69],[9.7,-0.66],[9.74,-0.72],[9.78,-0.76],[9.82,-0.47],[9.87,-0.09],[9.94,0.28],[10,0.58]];

const shearData = [c1Shear, c2Shear, c3Shear, c4Shear, c5Shear, c6Shear, c7Shear];
const normalData = [c1Normal, c2Normal, c3Normal, c4Normal, c5Normal, c6Normal, c7Normal];
const ratioData = [c1Ratio, c2Ratio, c3Ratio, c4Ratio, c5Ratio, c6Ratio, c7Ratio];

// ---------------- LAYOUT / STYLE ----------------
const layout = [
  {grid:[40,8,259,172],   legend:[44,0],    title:[170,212], time:[170,188]},
  {grid:[391,8,258,174],  legend:[397,1],   title:[524,212], time:[520,189]},
  {grid:[41,241,257,171], legend:[45,233],  title:[170,448], time:[170,420]},
  {grid:[391,247,259,172],legend:[397,239], title:[524,448], time:[520,427]},
  {grid:[41,480,257,172], legend:[44,473],  title:[170,684], time:[169,660]},
  {grid:[391,475,258,172],legend:[397,467], title:[524,684], time:[520,655]},
  {grid:[213,726,264,176],legend:[218,717], title:[346,942], time:[345,912]}
];
const SERIF = '"Liberation Serif","Times New Roman",serif';
const COLORS = ['#4F81BD', '#C0504D', '#9BBB59'];
const AXIS_C = '#bfbfbf';
const LABEL_C = '#333';

const option = {animation:false, grid:[], xAxis:[], yAxis:[], legend:[], series:[], graphic:[]};
layout.forEach((L, i) => {
  const [fmin, fmax, fint] = forceRanges[i];
  // x axis crosses the force axis at zero: shift it up from the bottom edge by the zero's share of the height
  const zeroShift = L.grid[3] * (0 - fmin) / (fmax - fmin);
  option.grid.push({left:L.grid[0], top:L.grid[1], width:L.grid[2], height:L.grid[3]});
  option.xAxis.push({gridIndex:i, type:'value', position:'bottom', offset:-zeroShift, min:xRange[0], max:xRange[1], interval:xRange[2],
    axisLine:{show:true, onZero:false, lineStyle:{color:AXIS_C, width:1}},
    axisTick:{show:true, length:3, lineStyle:{color:AXIS_C}},
    axisLabel:{fontFamily:SERIF, fontSize:11, color:LABEL_C, margin:5, showMinLabel:true, showMaxLabel:true, hideOverlap:false},
    splitLine:{show:false}});
  option.yAxis.push({gridIndex:i, type:'value', position:'left', min:fmin, max:fmax, interval:fint,
    axisLine:{show:true, lineStyle:{color:AXIS_C, width:1}},
    axisTick:{show:true, length:3, lineStyle:{color:AXIS_C}},
    axisLabel:{fontFamily:SERIF, fontSize:11, color:LABEL_C, margin:6, showMinLabel:true, showMaxLabel:true, hideOverlap:false},
    splitLine:{show:false},
    name:'Force (kN)', nameLocation:'middle', nameRotate:90, nameGap:28,
    nameTextStyle:{fontFamily:SERIF, fontWeight:'bold', fontSize:10, color:'#000'}});
  option.yAxis.push({gridIndex:i, type:'value', position:'right', min:ratioRange[0], max:ratioRange[1], interval:ratioRange[2],
    axisLine:{show:true, lineStyle:{color:AXIS_C, width:1}},
    axisTick:{show:true, length:3, lineStyle:{color:AXIS_C}},
    axisLabel:{fontFamily:SERIF, fontSize:11, color:LABEL_C, margin:5, showMinLabel:true, showMaxLabel:true, hideOverlap:false},
    splitLine:{show:false},
    name:'Shear  Force/ Normal  Force', nameLocation:'middle', nameRotate:90, nameGap:27,
    nameTextStyle:{fontFamily:SERIF, fontWeight:'bold', fontSize:10, color:'#000'}});
  option.legend.push({left:L.legend[0], top:L.legend[1], padding:0, icon:'rect', itemWidth:17, itemHeight:2, itemGap:10,
    data:seriesNames, textStyle:{fontFamily:SERIF, fontSize:8, color:'#333'}, selectedMode:false});
  const datasets = [shearData[i], normalData[i], ratioData[i]];
  datasets.forEach((d, k) => {
    option.series.push({type:'line', name:seriesNames[k], xAxisIndex:i, yAxisIndex:k === 2 ? 2*i+1 : 2*i,
      data:d, symbol:'none', smooth:k === 1 ? 0.5 : 0.2, clip:true,
      lineStyle:{color:COLORS[k], width:1.3}, itemStyle:{color:COLORS[k]}, z:2+k});
  });
  option.graphic.push({type:'text', x:L.title[0], y:L.title[1], style:{text:panelTitles[i], font:'bold 14px ' + SERIF, fill:'#000', textAlign:'center', textVerticalAlign:'middle', verticalAlign:'middle'}});
  option.graphic.push({type:'text', x:L.time[0], y:L.time[1], style:{text:'Time (s)', font:'bold 11px ' + SERIF, fill:'#000', textAlign:'center', textVerticalAlign:'middle', verticalAlign:'middle'}});
});

const chart = echarts.init(document.getElementById('c'), null, {renderer:'canvas'});
chart.setOption(option);
</script></body></html>
